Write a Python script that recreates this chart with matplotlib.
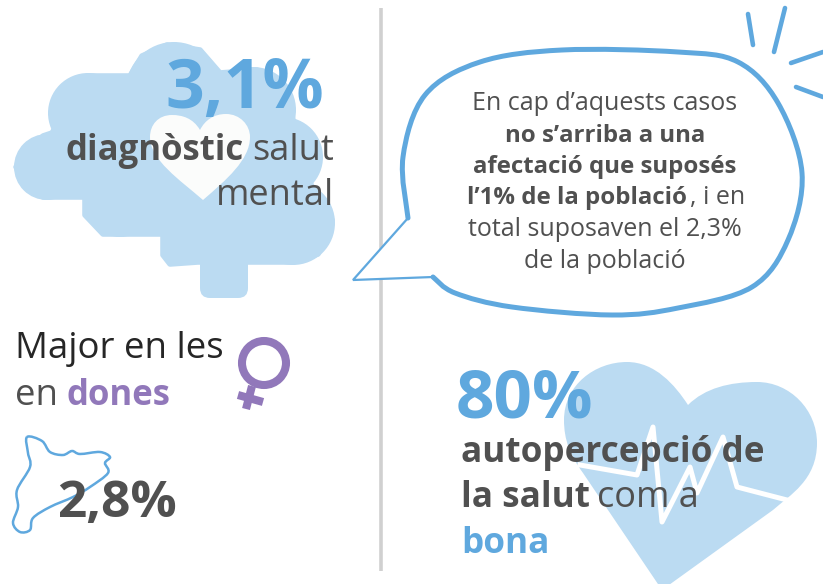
import matplotlib
matplotlib.use("Agg")
import matplotlib.pyplot as plt
from matplotlib.patches import Polygon, PathPatch, Circle, FancyBboxPatch
from matplotlib.path import Path
import numpy as np

plt.rcParams['font.family'] = ['Open Sans', 'DejaVu Sans']

LIGHT = '#BBDBF2'
BLUE = '#5FA8DE'
DARK = '#505050'
INK = '#262626'
PURPLE = '#9178BA'

mental_share = '3,1%'
catalonia_share = '2,8%'
health_share = '80%'
bubble_lines = ['En cap d’aquests casos', 'no s’arriba a una', 'afectació que suposés',
                'l’1% de la població', ', i en', 'total suposaven el 2,3%', 'de la població']

fig = plt.figure(figsize=(8.23, 5.84), dpi=100)
ax = fig.add_axes([0, 0, 1, 1])
ax.set_xlim(0, 823)
ax.set_ylim(584, 0)
ax.axis('off')


def smooth(points, closed=False):
    """Catmull-Rom spline through the points, as a Bezier path."""
    p = np.asarray(points, float)
    n = len(p)
    verts, codes = [p[0]], [Path.MOVETO]
    last = n if closed else n - 1
    for i in range(last):
        if closed:
            p0, p1, p2, p3 = p[(i - 1) % n], p[i], p[(i + 1) % n], p[(i + 2) % n]
        else:
            p0, p1, p2, p3 = p[max(i - 1, 0)], p[i], p[i + 1], p[min(i + 2, n - 1)]
        verts += [p1 + (p2 - p0) / 6, p2 - (p3 - p1) / 6, p2]
        codes += [Path.CURVE4] * 3
    return Path(verts, codes)


def label(x, y, s, size, color=DARK, weight='normal', ha='left', z=5):
    ax.text(x, y, s, color=color, fontsize=size, fontweight=weight, ha=ha, va='baseline', zorder=z)


# separator
ax.plot([381, 381], [8, 571], color='#D0D0D0', lw=2.6, solid_capstyle='butt', zorder=0)

# brain: silhouette plus rounding lobes
brain = [(52, 133), (88, 76), (130, 76), (142, 56), (167, 45), (200, 50), (220, 73), (257, 70),
         (287, 92), (294, 125), (320, 157), (310, 183), (332, 220), (318, 254), (290, 262), (245, 262),
         (198, 262), (170, 264), (163, 255), (163, 234),
         (103, 234), (85, 215), (85, 197), (43, 197), (16, 167), (43, 136)]
ax.add_patch(Polygon(brain, closed=True, fc=LIGHT, ec=LIGHT, lw=4, joinstyle='round', zorder=1))
for cx, cy, r in [(47, 167, 33), (88, 113, 40), (174, 90, 48), (253, 110, 43), (283, 157, 40),
                  (293, 223, 42), (120, 200, 37)]:
    ax.add_patch(Circle((cx, cy), r, fc=LIGHT, ec='none', zorder=1))
ax.add_patch(FancyBboxPatch((200, 250), 48, 48, boxstyle='round,pad=0,rounding_size=10',
                            fc=LIGHT, ec='none', zorder=1))

# small white heart
small_heart = Path([(200, 130), (193, 118), (182, 115), (172, 115), (158, 115), (150, 125), (150, 137),
                    (150, 160), (180, 180), (203, 200), (226, 180), (250, 160), (250, 137),
                    (250, 125), (240, 114), (226, 114), (214, 114), (205, 120), (200, 130)],
                   [Path.MOVETO] + [Path.CURVE4] * 18)
ax.add_patch(PathPatch(small_heart, fc='#FBFCFB', ec='none', zorder=2))

label(244.5, 108, mental_share, 49, BLUE, 'bold', 'center')
label(66, 160, 'diagnòstic', 25, DARK, 'bold')
label(334, 160, 'salut', 26, DARK, ha='right')
label(334, 205, 'mental', 26, DARK, ha='right')

# speech bubble
outline = [(433, 277), (455, 293), (512, 307), (612, 315), (678, 308), (752, 287), (788, 240), (802, 173),
           (778, 103), (738, 62), (678, 52), (562, 50), (480, 62), (425, 95), (403, 157), (408, 218)]
ax.add_patch(Polygon(outline + [(353, 280)], closed=True, fc='white', ec='none', zorder=2))
ax.add_patch(PathPatch(smooth(outline + [outline[0]]), fc='white', ec='none', zorder=2))
ax.add_patch(PathPatch(smooth(outline), fc='none', ec=BLUE, lw=3.6, capstyle='round', zorder=3))
ax.plot([408, 353, 433], [218, 280, 277], color=BLUE, lw=1.6, solid_joinstyle='miter', zorder=3)

label(605, 110, bubble_lines[0], 18, DARK, ha='center')
label(605, 142, bubble_lines[1], 17.3, DARK, 'bold', 'center')
label(605, 173, bubble_lines[2], 17.3, DARK, 'bold', 'center')
label(467, 204, bubble_lines[3], 17.3, DARK, 'bold')
label(690, 204, bubble_lines[4], 18, DARK)
label(605, 236, bubble_lines[5], 18, DARK, ha='center')
label(605, 268, bubble_lines[6], 18, DARK, ha='center')

# rays
for x0, y0, x1, y1 in [(748, 14, 753, 45), (785, 8, 774, 52), (823, 52, 791, 63), (823, 97, 796, 87)]:
    ax.plot([x0, x1], [y0, y1], color=BLUE, lw=3.3, solid_capstyle='round', zorder=3)

# women block
label(15, 358, 'Major en les', 26.4, INK)
label(15, 405, 'en', 26.4, DARK)
label(67, 405, 'dones', 25, PURPLE, 'bold')
ax.add_patch(Circle((264, 363), 22, fc='none', ec=PURPLE, lw=5.8))
ax.plot([252, 246], [386, 409], color=PURPLE, lw=5.8, solid_capstyle='butt')
ax.plot([238, 263], [395, 402], color=PURPLE, lw=5.8, solid_capstyle='butt')

# Catalonia outline
catalonia = [(27, 437), (42, 441), (50, 452), (63, 455), (72, 451), (80, 454), (100, 452), (110, 457), (105, 463),
             (108, 473), (90, 487), (73, 497), (50, 507), (33, 518), (30, 530), (20, 532), (13, 523), (18, 507),
             (17, 490), (30, 467), (28, 453)]
ax.add_patch(PathPatch(smooth(catalonia, closed=True), fc='none', ec=BLUE, lw=1.8, zorder=2))
label(117, 517, catalonia_share, 37, DARK, 'bold', 'center')

# big heart
big_heart = Path([(688, 405), (705, 388), (730, 382), (757, 382), (790, 382), (817, 410), (817, 443),
                  (817, 480), (790, 495), (773, 510), (662, 590), (583, 473), (570, 455), (564, 440), (564, 420),
                  (564, 385), (595, 362), (627, 362), (655, 362), (675, 385), (688, 405)],
                 [Path.MOVETO] + [Path.CURVE4] * 9 + [Path.LINETO] * 2 + [Path.CURVE4] * 9)
ax.add_patch(PathPatch(big_heart, fc=LIGHT, ec='none', zorder=1))
ecg = [(580, 465), (637, 475), (653, 427), (662, 522), (690, 467), (697, 493), (723, 437), (737, 487), (787, 500)]
ax.plot(*zip(*ecg), color='white', lw=3.6, solid_joinstyle='round', zorder=2)

label(524.5, 418, health_share, 48.5, BLUE, 'bold', 'center')
label(461, 462, 'autopercepció de', 25.3, DARK, 'bold')
label(461, 507, 'la salut', 25.3, DARK, 'bold')
label(597, 507, 'com a', 26, DARK)
label(461, 553, 'bona', 25.3, BLUE, 'bold')

fig.savefig('out.png', dpi=100)
